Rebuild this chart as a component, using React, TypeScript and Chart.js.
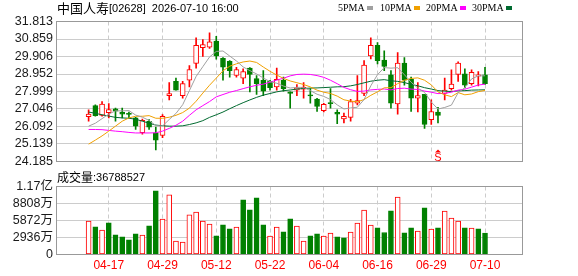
import { useEffect, useRef } from 'react';
import { Chart, registerables } from 'chart.js';

Chart.register(...registerables);

const stockName = '中国人寿';
const stockCode = '[02628]';
const timestamp = '2026-07-10 16:00';
const volumeTitle = '成交量';

const dates = [
  '04-14', '04-15', '04-16', '04-17', '04-20', '04-21', '04-22', '04-23', '04-24', '04-27',
  '04-28', '04-29', '04-30', '05-04', '05-05', '05-06', '05-07', '05-08', '05-11', '05-12',
  '05-13', '05-14', '05-15', '05-18', '05-19', '05-20', '05-21', '05-22', '05-26', '05-27',
  '05-28', '05-29', '06-01', '06-02', '06-03', '06-04', '06-05', '06-08', '06-09', '06-10',
  '06-11', '06-12', '06-15', '06-16', '06-17', '06-18', '06-22', '06-23', '06-24', '06-25',
  '06-26', '06-29', '06-30', '07-02', '07-03', '07-06', '07-07', '07-08', '07-09', '07-10',
];

const opens = [
  26.63, 27.23, 26.70, 26.84, 27.06, 26.86, 26.80, 26.56, 25.75, 26.38,
  25.75, 25.61, 27.77, 28.55, 27.77, 28.61, 29.53, 30.39, 30.42, 30.75,
  29.80, 29.64, 28.87, 28.73, 29.28, 28.70, 28.61, 28.55, 28.25, 28.61,
  27.98, 28.07, 28.12, 27.80, 27.59, 26.95, 27.40, 26.86, 26.50, 26.59,
  27.36, 27.89, 29.94, 30.51, 29.71, 28.91, 27.32, 29.55, 28.66, 27.63,
  27.84, 26.47, 26.88, 27.89, 28.16, 28.93, 28.96, 28.43, 28.84, 28.91,
];
const highs = [
  27.00, 27.27, 27.45, 27.34, 27.09, 27.09, 26.88, 26.59, 26.50, 26.47,
  26.06, 26.74, 28.48, 28.73, 28.55, 29.41, 30.92, 30.83, 31.19, 31.01,
  29.85, 29.68, 29.32, 29.23, 29.30, 28.87, 29.14, 28.61, 29.27, 28.78,
  27.98, 28.38, 28.48, 28.16, 27.63, 27.36, 28.16, 27.00, 26.82, 27.57,
  28.87, 29.68, 30.92, 30.66, 30.21, 29.14, 30.12, 29.85, 28.78, 28.48,
  27.84, 27.54, 27.13, 28.73, 29.18, 29.62, 29.23, 29.18, 29.09, 29.32,
];
const lows = [
  26.38, 26.65, 26.65, 26.56, 26.38, 26.56, 26.56, 25.93, 25.67, 25.93,
  24.81, 25.49, 27.54, 28.07, 27.63, 28.25, 29.27, 29.91, 30.34, 29.76,
  28.61, 28.78, 28.78, 28.43, 27.98, 27.84, 27.77, 28.07, 28.07, 28.02,
  27.09, 27.77, 27.63, 27.36, 26.91, 26.88, 27.09, 26.24, 26.29, 26.38,
  27.27, 27.77, 29.77, 29.50, 29.14, 27.09, 26.77, 28.34, 26.91, 26.88,
  25.99, 26.20, 26.29, 27.54, 28.07, 28.55, 28.20, 28.34, 28.30, 28.38,
];
const closes = [
  26.77, 26.68, 27.32, 27.02, 26.93, 26.77, 26.75, 26.11, 26.43, 26.06,
  25.35, 26.65, 27.89, 28.07, 28.43, 29.20, 30.51, 30.55, 30.71, 29.94,
  29.32, 29.14, 29.20, 29.09, 28.93, 28.43, 28.02, 28.21, 28.66, 28.16,
  27.89, 28.20, 28.22, 27.76, 27.18, 27.30, 27.34, 26.77, 26.65, 27.45,
  27.50, 29.44, 30.51, 29.68, 29.37, 27.36, 29.55, 28.61, 27.63, 27.77,
  26.20, 26.91, 26.70, 28.07, 28.41, 29.55, 28.34, 29.05, 28.91, 28.43,
];
const volumes = [
  57700000, 47800000, 42100000, 54700000, 34000000, 30600000, 25400000, 35700000, 33500000, 49600000,
  110000000, 61100000, 103100000, 23100000, 21400000, 68600000, 73200000, 57700000, 52500000, 32300000,
  51300000, 44400000, 47300000, 94500000, 77200000, 97900000, 51300000, 31800000, 47300000, 39200000,
  61700000, 49000000, 23100000, 32300000, 35700000, 31800000, 37000000, 30600000, 28800000, 38700000,
  54200000, 76700000, 50800000, 46100000, 38000000, 75500000, 99100000, 37500000, 46100000, 40400000,
  80700000, 43900000, 46100000, 75000000, 62900000, 57700000, 46100000, 45600000, 44400000, 36788527,
];

const ma5Lead = [26.11, 26.27, 26.52, 26.77];
const ma10Lead = [25.13, 25.35, 25.58, 25.84, 26.11, 26.38, 26.56, 26.65, 26.65];
const ma20Lead = [
  25.93, 25.93, 25.92, 25.88, 25.84, 25.81, 25.77, 25.74, 25.74, 25.74,
  25.75, 25.84, 25.99, 26.16, 26.38, 26.70, 27.00, 27.23, 27.45,
];
const ma30Lead = [
  26.88, 26.81, 26.73, 26.66, 26.59, 26.56, 26.54, 26.49, 26.38, 26.27,
  26.17, 26.13, 26.11, 26.11, 26.13, 26.20, 26.29, 26.41, 26.59, 26.73,
  26.88, 27.06, 27.23, 27.39, 27.54, 27.68, 27.80, 27.89, 27.98,
];

const maLabels = ['5PMA', '10PMA', '20PMA', '30PMA'];
const maPeriods = [5, 10, 20, 30];
const maLeads = [ma5Lead, ma10Lead, ma20Lead, ma30Lead];
const maColors = ['#a0a0a0', '#f0a000', '#ff00ff', '#006a30'];

const priceTicks = [24.185, 25.139, 26.092, 27.046, 27.999, 28.952, 29.906, 30.859, 31.813];
const volTicks = [0, 29360000, 58720000, 88080000, 117440000];
const volTickLabels = ['0', '2936万', '5872万', '8808万', '1.17亿'];
const xTickLabels = ['04-17', '04-29', '05-12', '05-22', '06-04', '06-16', '06-29', '07-10'];
const signalDates = ['06-30'];
const signalLabels = ['S'];

const RED = '#ff0000';
const GREEN = '#008000';
const GRID = '#cccccc';
const FRAME = '#999999';
const SANS = "'Liberation Sans', Arial, sans-serif";
const CJK = "'Noto Sans CJK SC', sans-serif";
const X_MIN = -0.52;
const X_MAX = 60.17;

function movingAverage(values: number[], n: number, lead: number[]) {
  return values.map((_, i) => {
    if (i < n - 1) return lead[i];
    let s = 0;
    for (let k = i - n + 1; k <= i; k++) s += values[k];
    return s / n;
  });
}

const boxPlugin = {
  id: 'box',
  beforeDatasetsDraw(chart: any) {
    // dashed vertical grid lines at the x-axis ticks
    const { ctx, chartArea: a } = chart;
    const xs = chart.scales.x;
    ctx.save();
    ctx.strokeStyle = GRID;
    ctx.lineWidth = 1;
    ctx.setLineDash([4, 3]);
    xs.ticks.forEach((t: any) => {
      const px = Math.round(xs.getPixelForValue(t.value) - 0.5) + 0.5;
      ctx.beginPath();
      ctx.moveTo(px, a.top);
      ctx.lineTo(px, a.bottom);
      ctx.stroke();
    });
    ctx.restore();
  },
  afterDraw(chart: any) {
    const { ctx, chartArea: a } = chart;
    ctx.save();
    ctx.strokeStyle = FRAME;
    ctx.lineWidth = 1;
    const l = Math.floor(a.left) + 0.5;
    const r = Math.floor(a.right) + 0.5;
    const t = Math.floor(a.top) + 0.5;
    const b = Math.floor(a.bottom) + 0.5;
    ctx.strokeRect(l, t, r - l, b - t);
    ctx.restore();
  },
};

function xAxis(showLabels: boolean, height: number) {
  return {
    type: 'linear',
    min: X_MIN,
    max: X_MAX,
    afterBuildTicks: (s: any) => {
      s.ticks = xTickLabels.map((l) => ({ value: dates.indexOf(l) }));
    },
    afterFit: (s: any) => {
      s.height = height;
    },
    ticks: {
      display: showLabels,
      autoSkip: false,
      maxRotation: 0,
      color: RED,
      padding: 4,
      font: { family: SANS, size: 12 },
      callback: (v: any) => dates[Number(v)] ?? '',
    },
    grid: { display: false, drawTicks: false },
    border: { display: false },
  };
}

function yAxis(ticks: number[], labelFor: (v: number, i: number) => string, family: string) {
  return {
    type: 'linear',
    min: ticks[0],
    max: ticks[ticks.length - 1],
    afterBuildTicks: (s: any) => {
      s.ticks = ticks.map((v) => ({ value: v }));
    },
    afterFit: (s: any) => {
      s.width = 56;
    },
    ticks: {
      autoSkip: false,
      color: '#1a1a1a',
      padding: 3,
      font: { family, size: 12.5 },
      callback: (v: any, i: number) => labelFor(Number(v), i),
    },
    grid: { color: GRID, lineWidth: 1, drawTicks: false },
    border: { display: false },
  };
}

export default function App() {
  const priceRef = useRef<HTMLCanvasElement>(null);
  const volRef = useRef<HTMLCanvasElement>(null);

  useEffect(() => {
    document.body.style.margin = '0';
    const candleUp = closes.map((c, i) => c >= opens[i]);
    const volUp = closes.map((c, i) => (i === 0 ? c >= opens[i] : c >= closes[i - 1]));
    const mas = maPeriods.map((n, k) => movingAverage(closes, n, maLeads[k]));

    const headerPlugin = {
      id: 'header',
      afterDraw(chart: any) {
        const { ctx } = chart;
        ctx.save();
        ctx.textBaseline = 'middle';
        ctx.fillStyle = '#000';
        ctx.font = `13px ${CJK}`;
        ctx.fillText(stockName, 57, 8);
        const w = ctx.measureText(stockName).width;
        ctx.font = `11px ${SANS}`;
        ctx.fillText(`${stockCode}  ${timestamp}`, 57 + w, 8.5);
        const legendX = [338, 380, 426, 472];
        ctx.font = `10px 'Liberation Serif', serif`;
        maLabels.forEach((label, k) => {
          ctx.fillStyle = '#000';
          ctx.fillText(label, legendX[k], 8.5);
          const tw = ctx.measureText(label).width;
          ctx.fillStyle = maColors[k];
          ctx.fillRect(Math.round(legendX[k] + tw + 2), 6, 6, 4);
        });
        const xs = chart.scales.x;
        const area = chart.chartArea;
        signalDates.forEach((d, k) => {
          const px = Math.round(xs.getPixelForValue(dates.indexOf(d)));
          ctx.fillStyle = RED;
          ctx.beginPath();
          ctx.moveTo(px, area.bottom - 12);
          ctx.lineTo(px - 3, area.bottom - 9);
          ctx.lineTo(px + 3, area.bottom - 9);
          ctx.closePath();
          ctx.fill();
          ctx.font = `11px ${SANS}`;
          ctx.textAlign = 'center';
          ctx.fillText(signalLabels[k], px, area.bottom - 3.5);
          ctx.textAlign = 'left';
        });
        ctx.restore();
      },
    };

    const price = new Chart(priceRef.current as HTMLCanvasElement, {
      type: 'bar',
      data: {
        datasets: [
          ...maLabels.map((label, k) => ({
            type: 'line' as const,
            label,
            data: mas[k].map((v, i) => ({ x: i, y: v })),
            borderColor: maColors[k],
            borderWidth: 1,
            pointRadius: 0,
            tension: 0,
            fill: false,
            order: 0,
          })),
          {
            type: 'bar' as const,
            label: 'body',
            data: opens.map((o, i) => ({ x: i, y: [o, closes[i]] })),
            backgroundColor: candleUp.map((u) => (u ? '#ffffff' : GREEN)),
            borderColor: candleUp.map((u) => (u ? RED : GREEN)),
            borderWidth: 1,
            borderSkipped: false,
            barThickness: 5,
            minBarLength: 1,
            grouped: false,
            order: 1,
          },
          {
            type: 'bar' as const,
            label: 'wick',
            data: lows.map((l, i) => ({ x: i, y: [l, highs[i]] })),
            backgroundColor: candleUp.map((u) => (u ? RED : GREEN)),
            borderWidth: 0,
            barThickness: 1,
            grouped: false,
            order: 2,
          },
        ] as any,
      },
      options: {
        responsive: false,
        animation: false,
        events: [],
        layout: { padding: { left: 0, right: 56, top: 21.5, bottom: 7.5 } },
        plugins: { legend: { display: false }, tooltip: { enabled: false } },
        scales: {
          x: xAxis(false, 0) as any,
          y: yAxis(priceTicks, (v) => v.toFixed(3), SANS) as any,
        },
      },
      plugins: [boxPlugin, headerPlugin],
    });

    const volHeader = {
      id: 'volHeader',
      afterDraw(chart: any) {
        const { ctx } = chart;
        ctx.save();
        ctx.textBaseline = 'middle';
        ctx.fillStyle = '#000';
        ctx.font = `12px ${CJK}`;
        ctx.fillText(volumeTitle, 57, 7);
        const w = ctx.measureText(volumeTitle).width;
        ctx.font = `11px ${SANS}`;
        ctx.fillText(`:${volumes[volumes.length - 1]}`, 57 + w, 7.5);
        ctx.restore();
      },
    };

    const vol = new Chart(volRef.current as HTMLCanvasElement, {
      type: 'bar',
      data: {
        datasets: [
          {
            label: 'volume',
            data: volumes.map((v, i) => ({ x: i, y: v })),
            backgroundColor: volUp.map((u) => (u ? '#ffffff' : GREEN)),
            borderColor: volUp.map((u) => (u ? RED : GREEN)),
            borderWidth: 1,
            borderSkipped: false,
            barThickness: 5,
            grouped: false,
          },
        ] as any,
      },
      options: {
        responsive: false,
        animation: false,
        events: [],
        layout: { padding: { left: 0, right: 56, top: 16.5, bottom: 0 } },
        plugins: { legend: { display: false }, tooltip: { enabled: false } },
        scales: {
          x: xAxis(true, 21.5) as any,
          y: yAxis(volTicks, (_v, i) => volTickLabels[i], `'Liberation Sans', ${CJK}`) as any,
        },
      },
      plugins: [boxPlugin, volHeader],
    });

    return () => {
      price.destroy();
      vol.destroy();
    };
  }, []);

  return (
    <div style={{ position: 'relative', width: 578, height: 276, background: '#fff' }}>
      <canvas
        ref={priceRef}
        width={578}
        height={172}
        style={{ position: 'absolute', left: 0, top: 0, width: 578, height: 172 }}
      />
      <canvas
        ref={volRef}
        width={578}
        height={106}
        style={{ position: 'absolute', left: 0, top: 170, width: 578, height: 106 }}
      />
    </div>
  );
}
